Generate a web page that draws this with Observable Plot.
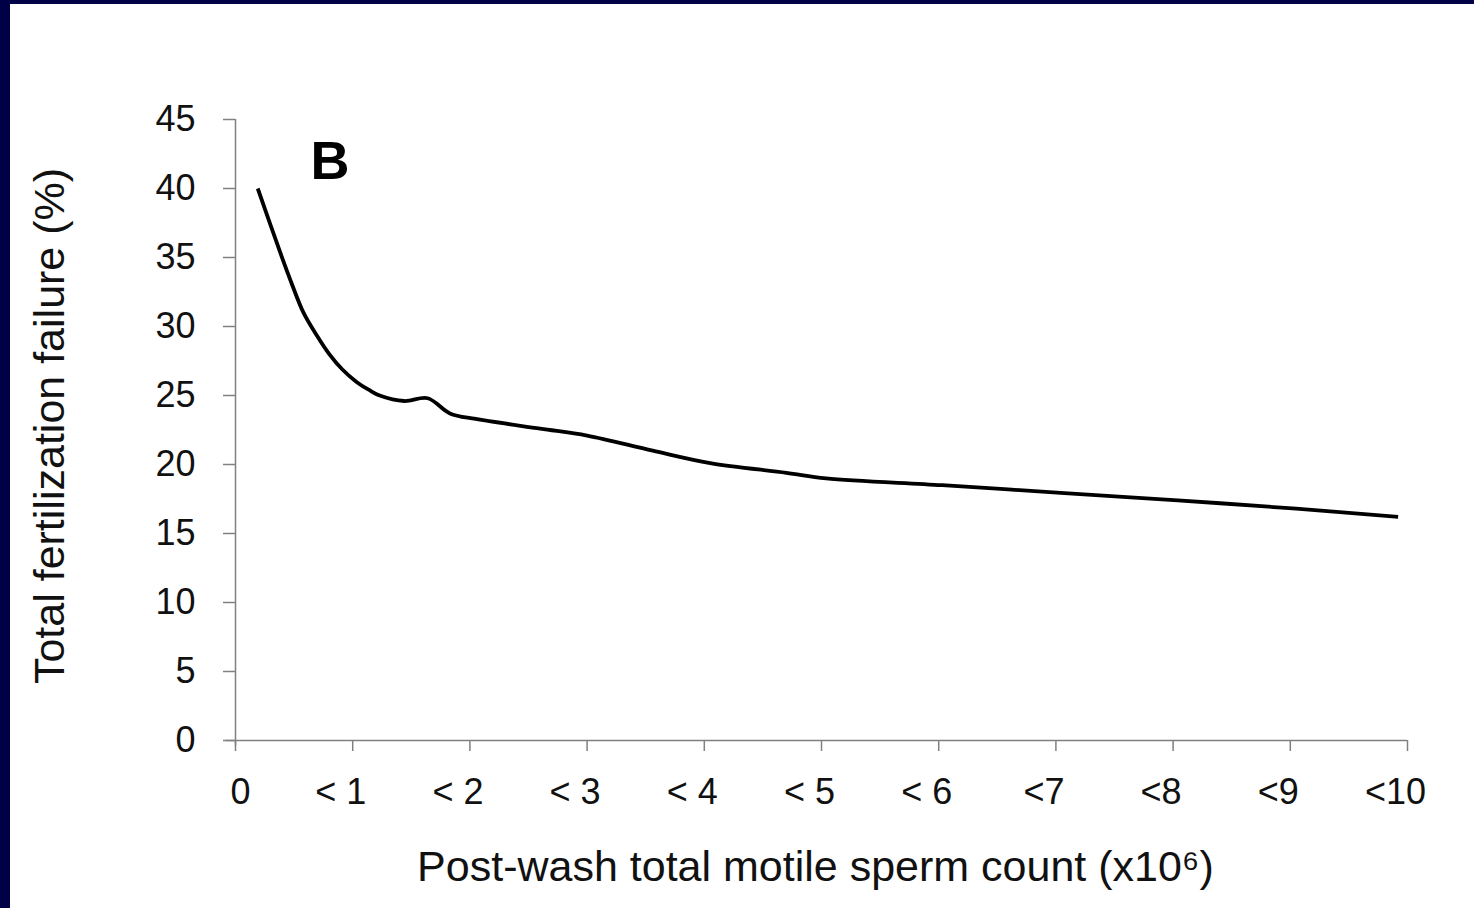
<!DOCTYPE html>
<html>
<head>
<meta charset="utf-8">
<script src="https://cdn.jsdelivr.net/npm/d3@7"></script>
<script src="https://cdn.jsdelivr.net/npm/@observablehq/plot@0.6"></script>
<style>
  html, body { margin: 0; padding: 0; background: #000046; width: 1474px; height: 908px; overflow: hidden; }
  #frame { position: absolute; left: 10px; top: 4px; width: 1464px; height: 904px; background: #ffffff; }
  svg { font-family: "Liberation Sans", Arial, sans-serif; }
</style>
</head>
<body>
<div id="frame"></div>
<script>
// Post-wash total motile sperm count (x10^6)
const countX = [0.19, 0.38, 0.48, 0.58, 0.69, 0.80, 0.91, 1.03, 1.14, 1.23, 1.44, 1.64, 1.83, 2.05, 2.6, 3.0, 3.56, 4.05, 4.7, 5.04, 6.03, 7.04, 8.04, 9.05, 9.92];
// Total fertilization failure (%)
const failurePct = [40.0, 35.4, 33.1, 31.0, 29.4, 28.0, 26.9, 26.0, 25.4, 25.0, 24.6, 24.8, 23.7, 23.3, 22.6, 22.1, 21.0, 20.1, 19.4, 19.0, 18.5, 17.95, 17.4, 16.8, 16.2];
const xTicks = [0, 1, 2, 3, 4, 5, 6, 7, 8, 9, 10];
const xTickLabels = ["0", "< 1", "< 2", "< 3", "< 4", "< 5", "< 6", "<7", "<8", "<9", "<10"];
const yTicks = [0, 5, 10, 15, 20, 25, 30, 35, 40, 45];
const panelLabel = "B";
const xTitle = "Post-wash total motile sperm count (x10\u2076)";
const yTitle = "Total fertilization failure (%)";

const data = countX.map((x, i) => ({x, y: failurePct[i]}));
const labelOf = d => xTickLabels[xTicks.indexOf(d)];

const axisColor = "#808080";
const textColor = "#111111";

const chart = Plot.plot({
  width: 1464,
  height: 904,
  marginLeft: 225,
  marginRight: 67,
  marginTop: 115,
  marginBottom: 168,
  style: {background: "#ffffff", fontFamily: "'Liberation Sans', Arial, sans-serif", overflow: "visible"},
  x: {domain: [0, 10]},
  y: {domain: [0, 45]},
  marks: [
    Plot.ruleX([0], {y1: -0.4, y2: 45, stroke: axisColor, strokeWidth: 1.5}),
    Plot.ruleY([0], {x1: -0.08, x2: 10, stroke: axisColor, strokeWidth: 1.5}),
    Plot.axisY({
      ticks: yTicks, tickSize: 12, tickPadding: 28, stroke: axisColor, strokeWidth: 1.5,
      fill: textColor, fontSize: 36, label: null
    }),
    Plot.axisX({
      ticks: xTicks, tickSize: 11, stroke: axisColor, strokeWidth: 1.5,
      fill: "none", label: null
    }),
    Plot.axisX({
      ticks: [0], tickSize: 0, tickPadding: 38, fill: textColor, fontSize: 36,
      tickFormat: labelOf, dx: 5, label: null
    }),
    Plot.axisX({
      ticks: xTicks.slice(1), tickSize: 0, tickPadding: 38, fill: textColor, fontSize: 36,
      tickFormat: labelOf, dx: -12, label: null
    }),
    Plot.text([yTitle], {
      frameAnchor: "left", textAnchor: "middle", lineAnchor: "middle", rotate: -90,
      dx: -185, dy: -4, fontSize: 43, fill: textColor
    }),
    Plot.text([xTitle], {
      frameAnchor: "bottom", lineAnchor: "middle", dx: -6, dy: 127, fontSize: 43, fill: textColor
    }),
    Plot.text([panelLabel], {
      frameAnchor: "top-left", textAnchor: "start", lineAnchor: "top", dx: 75, dy: 21,
      fontSize: 54, fontWeight: "bold", fill: "#000000"
    }),
    Plot.line(data, {x: "x", y: "y", curve: "catmull-rom", stroke: "#000000", strokeWidth: 3.8, strokeLinejoin: "round", strokeLinecap: "butt"})
  ]
});
document.getElementById("frame").appendChild(chart);
</script>
</body>
</html>
